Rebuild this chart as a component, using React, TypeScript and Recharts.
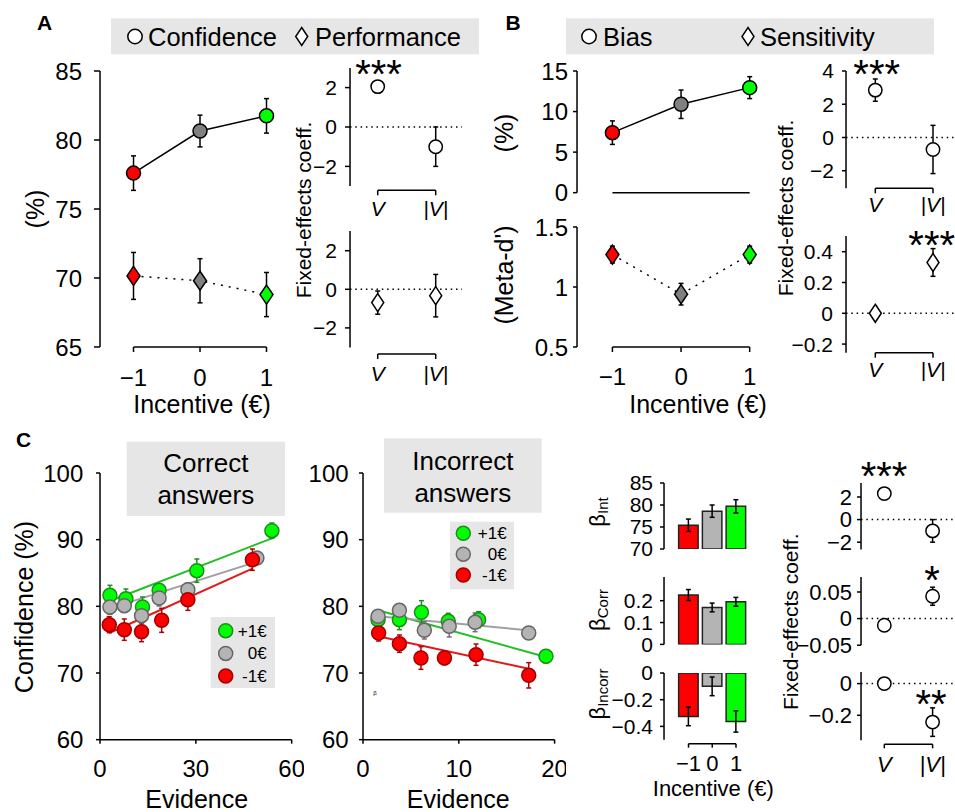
import React from "react";
import {
  ComposedChart,
  Scatter,
  Line,
  Bar,
  XAxis,
  YAxis,
  ReferenceLine,
  ErrorBar,
  Cell,
} from "recharts";

const FONT = '"Liberation Sans", Arial, Helvetica, sans-serif';

// ---------- panel A ----------
const incentives = [-1, 0, 1];
const confMean = [77.6, 80.65, 81.75];
const confErr = [1.25, 1.15, 1.25];
const perfMean = [70.15, 69.8, 68.8];
const perfErr = [1.7, 1.6, 1.6];
const coefPos = [0, 1];
const coefNames = ["V", "|V|"];
const confCoef = [2.05, -1.0];
const confCoefErr = [0.3, 1.0];
const perfCoef = [-0.69, -0.33];
const perfCoefErr = [0.6, 1.1];

// ---------- panel B ----------
const biasMean = [7.4, 10.9, 12.95];
const biasErr = [1.45, 1.75, 1.35];
const metaMean = [1.27, 0.94, 1.27];
const metaErr = [0.07, 0.09, 0.07];
const biasCoef = [2.85, -0.72];
const biasCoefErr = [0.67, 1.45];
const sensCoef = [0, 0.33];
const sensCoefErr = [0.02, 0.09];

// ---------- panel C, correct answers ----------
const corGreenX = [3.1, 8.1, 13.3, 18.5, 30.3, 53.8];
const corGreenY = [81.65, 81.15, 79.9, 82.4, 85.35, 91.35];
const corGreenE = [1.5, 1.45, 1.5, 0.9, 1.75, 1.15];
const corGrayX = [3.1, 7.6, 13.0, 18.5, 27.5, 49.1];
const corGrayY = [79.9, 80.1, 78.6, 81.25, 82.5, 87.25];
const corGrayE = [1.1, 1.0, 1.2, 1.2, 1.0, 0.9];
const corRedX = [2.9, 7.6, 13.0, 19.3, 27.5, 47.7];
const corRedY = [77.25, 76.5, 76.2, 77.9, 81.0, 87.0];
const corRedE = [1.2, 1.6, 1.5, 1.8, 1.6, 1.6];
const corGreenFitX = [3.1, 53.8];
const corGreenFitY = [80.8, 90.2];
const corGrayFitX = [3.1, 49.1];
const corGrayFitY = [79.7, 86.7];
const corRedFitX = [2.9, 47.7];
const corRedFitY = [76.0, 85.65];

// ---------- panel C, incorrect answers ----------
const incGreenX = [1.57, 3.8, 6.1, 8.9, 12.07, 19.1];
const incGreenY = [78.0, 78.0, 79.1, 77.75, 78.0, 72.5];
const incGreenE = [1.0, 1.5, 1.75, 1.2, 1.2, 1.0];
const incGrayX = [1.57, 3.8, 6.4, 9.0, 11.7, 17.3];
const incGrayY = [78.5, 79.4, 76.4, 77.0, 77.6, 76.0];
const incGrayE = [0.8, 0.8, 1.3, 1.6, 1.4, 0.8];
const incRedX = [1.63, 3.8, 6.05, 8.5, 11.8, 17.3];
const incRedY = [76.0, 74.4, 72.25, 72.25, 72.75, 69.65];
const incRedE = [1.2, 1.3, 1.7, 1.0, 1.6, 1.9];
const incGreenFitX = [1.57, 19.1];
const incGreenFitY = [79.4, 72.4];
const incGrayFitX = [1.57, 17.3];
const incGrayFitY = [78.5, 76.4];
const incRedFitX = [1.57, 17.3];
const incRedFitY = [75.5, 70.65];

// ---------- panel C, betas ----------
const betaInt = [75.4, 78.6, 79.7];
const betaIntErr = [1.4, 1.4, 1.5];
const betaCorr = [0.226, 0.169, 0.195];
const betaCorrErr = [0.025, 0.02, 0.02];
const betaIncorr = [-0.325, -0.1, -0.363];
const betaIncorrErr = [0.07, 0.07, 0.08];
const intCoef = [2.3, -1.0];
const intCoefErr = [0.15, 1.0];
const corrCoef = [-0.0125, 0.042];
const corrCoefErr = [0.003, 0.017];
const incorrCoef = [0, -0.243];
const incorrCoefErr = [0.01, 0.09];

const RED = "#ff0000";
const GREEN = "#00ff00";
const DGRAY = "#808080";
const LGRAY = "#b4b4b4";
const cond = [RED, DGRAY, GREEN];
const condLight = [RED, LGRAY, GREEN];
const white = ["#fff", "#fff"];

const pts = (xs: number[], ys: number[], es?: number[]) =>
  xs.map((x, i) => ({ x, y: ys[i], e: es ? es[i] : 0 }));

const fmt = (v: number) => (v < 0 ? "\u2212" : "") + String(Math.abs(v));
const coefLbl = (v: number) => coefNames[coefPos.indexOf(v)] ?? "";

type Cal = [number, number, number, number];
const at = (p: number, c: Cal) =>
  c[1] + ((p - c[0]) * (c[3] - c[1])) / (c[2] - c[0]);

const ML = 70;
const MR = 12;
const MT = 30;
const MB = 50;
const THIN = 0.01;
const AX = { stroke: "#000", strokeWidth: 1.5 };

function Plot(p: any) {
  const { box, xc, yc } = p;
  const xd = [at(box.l, xc), at(box.r, xc)];
  const yd = [at(box.b, yc), at(box.t, yc)];
  const yl = p.yEnd != null ? [at(p.yEnd, yc), yd[1]] : yd;
  const w = box.r - box.l + ML + MR;
  const h = box.b - box.t + MT + MB;
  const xTick = p.xLabels
    ? {
        fontSize: p.xFont,
        fill: "#000",
        fontFamily: FONT,
        fontStyle: p.xItalic ? "italic" : "normal",
      }
    : false;
  return (
    <div
      style={{
        position: "absolute",
        left: box.l - ML,
        top: box.t - MT,
        width: w,
        height: h,
      }}
    >
      <ComposedChart
        width={w}
        height={h}
        data={p.data}
        margin={{ top: MT, right: MR, bottom: MB, left: ML }}
      >
        <XAxis
          type="number"
          dataKey="x"
          domain={xd}
          allowDataOverflow
          ticks={p.xTicks}
          interval={0}
          height={THIN}
          axisLine={false}
          tickLine={p.xGap ? AX : false}
          tickSize={p.xGap ? p.xGap[0] : 0}
          tickMargin={p.xGap ? p.xGap[1] : 0}
          tick={xTick}
          tickFormatter={p.xLabels}
          stroke="#000"
        />
        {p.xMinor && (
          <XAxis
            xAxisId="m"
            type="number"
            domain={xd}
            allowDataOverflow
            ticks={p.xMinor}
            interval={0}
            height={THIN}
            axisLine={false}
            tickLine={AX}
            tickSize={p.xGap[0]}
            tick={false}
            stroke="#000"
          />
        )}
        <YAxis
          type="number"
          dataKey="y"
          domain={yd}
          allowDataOverflow
          ticks={p.yTicks}
          interval={0}
          width={THIN}
          axisLine={false}
          tickLine={AX}
          tickSize={p.yGap[0]}
          tickMargin={p.yGap[1]}
          tick={{ fontSize: p.yFont, fill: "#000", fontFamily: FONT }}
          tickFormatter={fmt}
          stroke="#000"
        />
        {p.yMinor && (
          <YAxis
            yAxisId="m"
            type="number"
            domain={yd}
            allowDataOverflow
            ticks={p.yMinor}
            interval={0}
            width={THIN}
            axisLine={false}
            tickLine={AX}
            tickSize={p.yMinorSize ?? 3}
            tick={false}
            stroke="#000"
          />
        )}
        {p.zero && (
          <ReferenceLine
            y={0}
            stroke="#000"
            strokeWidth={1.5}
            strokeDasharray="1.5 3.8"
            ifOverflow="visible"
          />
        )}
        <ReferenceLine
          segment={[
            { x: xd[0], y: yl[0] },
            { x: xd[0], y: yl[1] },
          ]}
          {...AX}
          ifOverflow="visible"
        />
        {p.xLine && (
          <ReferenceLine
            segment={[
              { x: p.xLine[0], y: yd[0] },
              { x: p.xLine[1], y: yd[0] },
            ]}
            {...AX}
            ifOverflow="visible"
          />
        )}
        {p.children}
      </ComposedChart>
    </div>
  );
}

const circle = (r: number, stroke: string) => (s: any) => (
  <circle cx={s.cx} cy={s.cy} r={r} fill={s.fill} stroke={stroke} strokeWidth={1.5} />
);
const diamond = (hw: number, hh: number, stroke: string) => (s: any) => (
  <polygon
    points={`${s.cx},${s.cy - hh} ${s.cx + hw},${s.cy} ${s.cx},${s.cy + hh} ${s.cx - hw},${s.cy}`}
    fill={s.fill}
    stroke={stroke}
    strokeWidth={1.5}
  />
);

function marks(data: any[], shape: any, fills: string[], errColor: string, line?: any) {
  return (
    <Scatter
      data={data}
      shape={shape}
      fill={fills[0]}
      line={line ?? false}
      lineType="joint"
      isAnimationActive={false}
    >
      {fills.map((f, i) => (
        <Cell key={i} fill={f} />
      ))}
      <ErrorBar dataKey="e" direction="y" width={2.5} stroke={errColor} strokeWidth={1.5} />
    </Scatter>
  );
}

function fit(xs: number[], ys: number[], color: string) {
  return (
    <Line
      data={pts(xs, ys)}
      dataKey="y"
      type="linear"
      stroke={color}
      strokeWidth={2}
      dot={false}
      activeDot={false}
      isAnimationActive={false}
    />
  );
}

function bars() {
  return (
    <Bar dataKey="y" barSize={19.5} stroke="#222" strokeWidth={1.5} isAnimationActive={false}>
      {condLight.map((f, i) => (
        <Cell key={i} fill={f} />
      ))}
      <ErrorBar dataKey="e" direction="y" width={2.5} stroke="#000" strokeWidth={1.5} />
    </Bar>
  );
}

const rot = (x: number, y: number, size: number, content: any) => (
  <text
    transform={`translate(${x},${y}) rotate(-90)`}
    textAnchor="middle"
    dominantBaseline="central"
    fontSize={size}
  >
    {content}
  </text>
);

const cGreen = { fill: GREEN, stroke: "#1e8c1e" };
const cGray = { fill: LGRAY, stroke: "#666" };
const cRed = { fill: RED, stroke: "#a00000" };
const legendRows = [
  { c: cGreen, t: "+1€" },
  { c: cGray, t: "0€" },
  { c: cRed, t: "-1€" },
];

function Overlay() {
  return (
    <svg
      width={955}
      height={812}
      style={{ position: "absolute", left: 0, top: 0 }}
      fontFamily={FONT}
      fill="#000"
    >
      <text x={37} y={30} fontSize={21} fontWeight="bold">A</text>
      <text x={505.5} y={30} fontSize={21} fontWeight="bold">B</text>
      <text x={16} y={447} fontSize={21} fontWeight="bold">C</text>

      <rect x={111} y={18.3} width={368} height={36} fill="#e6e6e6" />
      <circle cx={135} cy={36.5} r={7.2} fill="#fff" stroke="#000" strokeWidth={1.5} />
      <text x={148} y={45.5} fontSize={25.5}>Confidence</text>
      <polygon points="301.7,27.5 307.7,36.5 301.7,45.5 295.7,36.5" fill="#fff" stroke="#000" strokeWidth={1.5} />
      <text x={315} y={45.5} fontSize={25.5}>Performance</text>

      <rect x={566} y={18.3} width={368} height={36} fill="#e6e6e6" />
      <circle cx={589} cy={36.5} r={7.2} fill="#fff" stroke="#000" strokeWidth={1.5} />
      <text x={603} y={45.5} fontSize={25.5}>Bias</text>
      <polygon points="748,27.5 754,36.5 748,45.5 742,36.5" fill="#fff" stroke="#000" strokeWidth={1.5} />
      <text x={760} y={45.5} fontSize={25.5}>Sensitivity</text>

      {rot(35, 209, 25, "(%)")}
      <text x={202} y={413} fontSize={25} textAnchor="middle">Incentive (€)</text>
      {rot(303, 210, 21, "Fixed-effects coeff.")}
      <text x={378.5} y={88} fontSize={40} textAnchor="middle">***</text>

      {rot(504, 133, 25, "(%)")}
      {rot(504, 275, 25, "(Meta-d')")}
      <text x={698} y={413} fontSize={25} textAnchor="middle">Incentive (€)</text>
      {rot(785, 208, 21, "Fixed-effects coeff.")}
      <text x={876.7} y={88} fontSize={40} textAnchor="middle">***</text>
      <text x={931.7} y={259} fontSize={40} textAnchor="middle">***</text>

      <rect x={126.7} y={441.7} width={158.3} height={74.3} fill="#e6e6e6" />
      <text x={205.8} y={471.7} fontSize={26} textAnchor="middle">Correct</text>
      <text x={205.8} y={504} fontSize={26} textAnchor="middle">answers</text>
      <rect x={384} y={438.3} width={157.7} height={74.4} fill="#e6e6e6" />
      <text x={462.8} y={470} fontSize={26} textAnchor="middle">Incorrect</text>
      <text x={462.8} y={501.7} fontSize={26} textAnchor="middle">answers</text>

      <rect x={210.7} y={617} width={64.3} height={71} fill="#e6e6e6" />
      {legendRows.map((r, i) => (
        <g key={"l1" + i}>
          <circle cx={225.7} cy={630.7 + i * 22.7} r={7} fill={r.c.fill} stroke={r.c.stroke} strokeWidth={1.5} />
          <text x={266.7} y={636.7 + i * 22.7} fontSize={17} textAnchor="end">{r.t}</text>
        </g>
      ))}
      <rect x={450} y={521.7} width={64} height={67.6} fill="#e6e6e6" />
      {legendRows.map((r, i) => (
        <g key={"l2" + i}>
          <circle cx={463.3} cy={533.3 + i * 20.9} r={7} fill={r.c.fill} stroke={r.c.stroke} strokeWidth={1.5} />
          <text x={506.7} y={539.3 + i * 20.9} fontSize={17} textAnchor="end">{r.t}</text>
        </g>
      ))}

      {rot(24, 607, 25, "Confidence (%)")}
      <text x={196.7} y={808} fontSize={25} textAnchor="middle">Evidence</text>
      <text x={458.3} y={808} fontSize={25} textAnchor="middle">Evidence</text>
      <text x={373.3} y={695} fontSize={6}>β</text>

      {rot(597, 512, 22, <>β<tspan fontSize={15} dy={5}>Int</tspan></>)}
      {rot(597, 610, 22, <>β<tspan fontSize={15} dy={5}>Corr</tspan></>)}
      {rot(597, 694, 22, <>β<tspan fontSize={15} dy={5}>Incorr</tspan></>)}
      <text x={713.3} y={796} fontSize={22} textAnchor="middle">Incentive (€)</text>
      {rot(790, 621.7, 21, "Fixed-effects coeff.")}
      <text x={884} y={490} fontSize={40} textAnchor="middle">***</text>
      <text x={932} y={594} fontSize={40} textAnchor="middle">*</text>
      <text x={931} y={717.5} fontSize={40} textAnchor="middle">**</text>
    </svg>
  );
}

const lineSolid = { stroke: "#000", strokeWidth: 1.5 };
const lineDot = { stroke: "#000", strokeWidth: 1.5, strokeDasharray: "2 6" };

export default function App() {
  return (
    <div
      style={{
        position: "absolute",
        left: 0,
        top: 0,
        width: 955,
        height: 812,
        overflow: "hidden",
        background: "#fff",
        fontFamily: FONT,
      }}
    >
      <Overlay />

      {/* A: confidence / performance by incentive */}
      <Plot
        box={{ l: 99.5, r: 290, t: 71, b: 347 }}
        xc={[133, -1, 266, 1]}
        yc={[347, 65, 71, 85]}
        yTicks={[65, 70, 75, 80, 85]}
        yMinor={[67.5, 72.5, 77.5, 82.5]}
        yFont={24}
        yGap={[6, 12]}
        xTicks={incentives}
        xLabels={fmt}
        xFont={24}
        xGap={[5, 16.5]}
        xLine={[-1, 1]}
      >
        {marks(pts(incentives, perfMean, perfErr), diamond(6.5, 9.5, "#000"), cond, "#000", lineDot)}
        {marks(pts(incentives, confMean, confErr), circle(7, "#000"), cond, "#000", lineSolid)}
      </Plot>
      <Plot
        box={{ l: 350, r: 462, t: 67.7, b: 190 }}
        xc={[377.7, 0, 435.7, 1]}
        yc={[126.7, 0, 87.3, 2]}
        yEnd={185.8}
        yTicks={[-2, 0, 2]}
        yMinor={[-3, -1, 1, 3]}
        yFont={21}
        yGap={[5, 8]}
        xTicks={coefPos}
        xLabels={coefLbl}
        xItalic
        xFont={21}
        xGap={[5, 5.6]}
        xLine={[0, 1]}
        zero
      >
        {marks(pts(coefPos, confCoef, confCoefErr), circle(6.7, "#000"), white, "#000")}
      </Plot>
      <Plot
        box={{ l: 350, r: 462, t: 231, b: 354 }}
        xc={[377.7, 0, 435.7, 1]}
        yc={[289.3, 0, 250.7, 2]}
        yEnd={347.5}
        yTicks={[-2, 0, 2]}
        yMinor={[-3, -1, 1, 3]}
        yFont={21}
        yGap={[5, 8]}
        xTicks={coefPos}
        xLabels={coefLbl}
        xItalic
        xFont={21}
        xGap={[5, 6.6]}
        xLine={[0, 1]}
        zero
      >
        {marks(pts(coefPos, perfCoef, perfCoefErr), diamond(6, 9, "#000"), white, "#000")}
      </Plot>

      {/* B: bias / sensitivity */}
      <Plot
        box={{ l: 577.3, r: 770, t: 71, b: 192.7 }}
        xc={[612.7, -1, 750, 1]}
        yc={[192.7, 0, 71, 15]}
        yTicks={[0, 5, 10, 15]}
        yMinor={[2.5, 7.5, 12.5]}
        yFont={24}
        yGap={[4, 5]}
        xTicks={incentives}
        xGap={[5, 0]}
        xLine={[-1, 1]}
      >
        {marks(pts(incentives, biasMean, biasErr), circle(7, "#000"), cond, "#000", lineSolid)}
      </Plot>
      <Plot
        box={{ l: 577.3, r: 770, t: 227.3, b: 347.3 }}
        xc={[612.7, -1, 750, 1]}
        yc={[347.3, 0.5, 227.3, 1.5]}
        yTicks={[0.5, 1, 1.5]}
        yMinor={[0.75, 1.25]}
        yFont={24}
        yGap={[4, 5]}
        xTicks={incentives}
        xLabels={fmt}
        xFont={24}
        xGap={[5, 16.2]}
        xLine={[-1, 1]}
      >
        {marks(pts(incentives, metaMean, metaErr), diamond(6.5, 9.5, "#000"), cond, "#000", lineDot)}
      </Plot>
      <Plot
        box={{ l: 845.7, r: 955, t: 71, b: 188.3 }}
        xc={[875, 0, 932.7, 1]}
        yc={[137.5, 0, 71, 4]}
        yTicks={[-2, 0, 2, 4]}
        yMinor={[-3, -1, 1, 3]}
        yFont={21}
        yGap={[4, 8]}
        xTicks={coefPos}
        xLabels={coefLbl}
        xItalic
        xFont={21}
        xGap={[5, 4.3]}
        xLine={[0, 1]}
        zero
      >
        {marks(pts(coefPos, biasCoef, biasCoefErr), circle(6.7, "#000"), white, "#000")}
      </Plot>
      <Plot
        box={{ l: 845.7, r: 955, t: 236, b: 352.7 }}
        xc={[875, 0, 932.7, 1]}
        yc={[313.3, 0, 251.7, 0.4]}
        yTicks={[-0.2, 0, 0.2, 0.4]}
        yMinor={[-0.1, 0.1, 0.3]}
        yFont={21}
        yGap={[4, 9]}
        xTicks={coefPos}
        xLabels={coefLbl}
        xItalic
        xFont={21}
        xGap={[5, 4.9]}
        xLine={[0, 1]}
        zero
      >
        {marks(pts(coefPos, sensCoef, sensCoefErr), diamond(6, 9, "#000"), white, "#000")}
      </Plot>

      {/* C: confidence vs evidence */}
      <Plot
        box={{ l: 100, r: 291.7, t: 473.3, b: 740 }}
        xc={[100, 0, 291.7, 60]}
        yc={[740, 60, 473.3, 100]}
        yTicks={[60, 70, 80, 90, 100]}
        yMinor={[65, 75, 85, 95]}
        yMinorSize={4}
        yFont={24}
        yGap={[4, 12.7]}
        xTicks={[0, 30, 60]}
        xMinor={[7.5, 15, 22.5, 37.5, 45, 52.5]}
        xLabels={fmt}
        xFont={24}
        xGap={[4, 15.9]}
        xLine={[0, 60]}
      >
        {fit(corGreenFitX, corGreenFitY, "#22c022")}
        {fit(corGrayFitX, corGrayFitY, "#a0a0a0")}
        {fit(corRedFitX, corRedFitY, "#e01a1a")}
        {marks(pts(corGreenX, corGreenY, corGreenE), circle(7, cGreen.stroke), corGreenX.map(() => GREEN), "#1e8c1e")}
        {marks(pts(corGrayX, corGrayY, corGrayE), circle(7, cGray.stroke), corGrayX.map(() => LGRAY), "#707070")}
        {marks(pts(corRedX, corRedY, corRedE), circle(7, cRed.stroke), corRedX.map(() => RED), "#b00000")}
      </Plot>
      <Plot
        box={{ l: 362.7, r: 554.3, t: 473.3, b: 740 }}
        xc={[362.7, 0, 554.3, 20]}
        yc={[740, 60, 473.3, 100]}
        yTicks={[60, 70, 80, 90, 100]}
        yMinor={[65, 75, 85, 95]}
        yMinorSize={4}
        yFont={24}
        yGap={[4, 10.4]}
        xTicks={[0, 10, 20]}
        xMinor={[2.5, 5, 7.5, 12.5, 15, 17.5]}
        xLabels={fmt}
        xFont={24}
        xGap={[4, 15.9]}
        xLine={[0, 20]}
      >
        {fit(incGreenFitX, incGreenFitY, "#22c022")}
        {fit(incGrayFitX, incGrayFitY, "#a0a0a0")}
        {fit(incRedFitX, incRedFitY, "#e01a1a")}
        {marks(pts(incGreenX, incGreenY, incGreenE), circle(7, cGreen.stroke), incGreenX.map(() => GREEN), "#1e8c1e")}
        {marks(pts(incGrayX, incGrayY, incGrayE), circle(7, cGray.stroke), incGrayX.map(() => LGRAY), "#707070")}
        {marks(pts(incRedX, incRedY, incRedE), circle(7, cRed.stroke), incRedX.map(() => RED), "#b00000")}
      </Plot>

      {/* C: regression betas */}
      <Plot
        box={{ l: 663.5, r: 760, t: 483.3, b: 549.3 }}
        xc={[688, -1, 735.5, 1]}
        yc={[549.3, 70, 483.3, 85]}
        data={pts(incentives, betaInt, betaIntErr)}
        yTicks={[70, 75, 80, 85]}
        yMinor={[72.5, 77.5, 82.5]}
        yFont={21}
        yGap={[4, 7]}
        xTicks={incentives}
      >
        {bars()}
      </Plot>
      <Plot
        box={{ l: 663.5, r: 760, t: 577.3, b: 644.7 }}
        xc={[688, -1, 735.5, 1]}
        yc={[644.7, 0, 601, 0.2]}
        data={pts(incentives, betaCorr, betaCorrErr)}
        yTicks={[0, 0.1, 0.2]}
        yMinor={[0.05, 0.15, 0.25]}
        yFont={21}
        yGap={[4, 7]}
        xTicks={incentives}
      >
        {bars()}
      </Plot>
      <Plot
        box={{ l: 663.5, r: 760, t: 673.3, b: 744 }}
        xc={[688, -1, 735.5, 1]}
        yc={[673.3, 0, 700, -0.2]}
        yEnd={740}
        data={pts(incentives, betaIncorr, betaIncorrErr)}
        yTicks={[-0.4, -0.2, 0]}
        yMinor={[-0.5, -0.3, -0.1]}
        yFont={21}
        yGap={[4, 7]}
        xTicks={incentives}
        xLabels={fmt}
        xFont={22}
        xGap={[4, 7.6]}
        xLine={[-1, 1]}
      >
        {bars()}
      </Plot>

      {/* C: fixed effects */}
      <Plot
        box={{ l: 860.7, r: 955, t: 482.7, b: 549.3 }}
        xc={[884, 0, 932.3, 1]}
        yc={[519.3, 0, 496.7, 2]}
        yTicks={[-2, 0, 2]}
        yMinor={[-1, 1, 3]}
        yFont={22}
        yGap={[4, 5]}
        xTicks={coefPos}
        zero
      >
        {marks(pts(coefPos, intCoef, intCoefErr), circle(6.7, "#000"), white, "#000")}
      </Plot>
      <Plot
        box={{ l: 860.7, r: 955, t: 576.7, b: 645 }}
        xc={[884, 0, 932.3, 1]}
        yc={[618.3, 0, 591.7, 0.05]}
        yTicks={[-0.05, 0, 0.05]}
        yMinor={[-0.025, 0.025, 0.075]}
        yFont={22}
        yGap={[4, 5]}
        xTicks={coefPos}
        zero
      >
        {marks(pts(coefPos, corrCoef, corrCoefErr), circle(6.7, "#000"), white, "#000")}
      </Plot>
      <Plot
        box={{ l: 860.7, r: 955, t: 671.7, b: 744 }}
        xc={[884, 0, 932.3, 1]}
        yc={[683.3, 0, 715, -0.2]}
        yEnd={740}
        yTicks={[-0.2, 0]}
        yMinor={[-0.3, -0.1]}
        yFont={22}
        yGap={[4, 5]}
        xTicks={coefPos}
        xLabels={coefLbl}
        xItalic
        xFont={22}
        xGap={[4, 7.6]}
        xLine={[0, 1]}
        zero
      >
        {marks(pts(coefPos, incorrCoef, incorrCoefErr), circle(6.7, "#000"), white, "#000")}
      </Plot>
    </div>
  );
}
